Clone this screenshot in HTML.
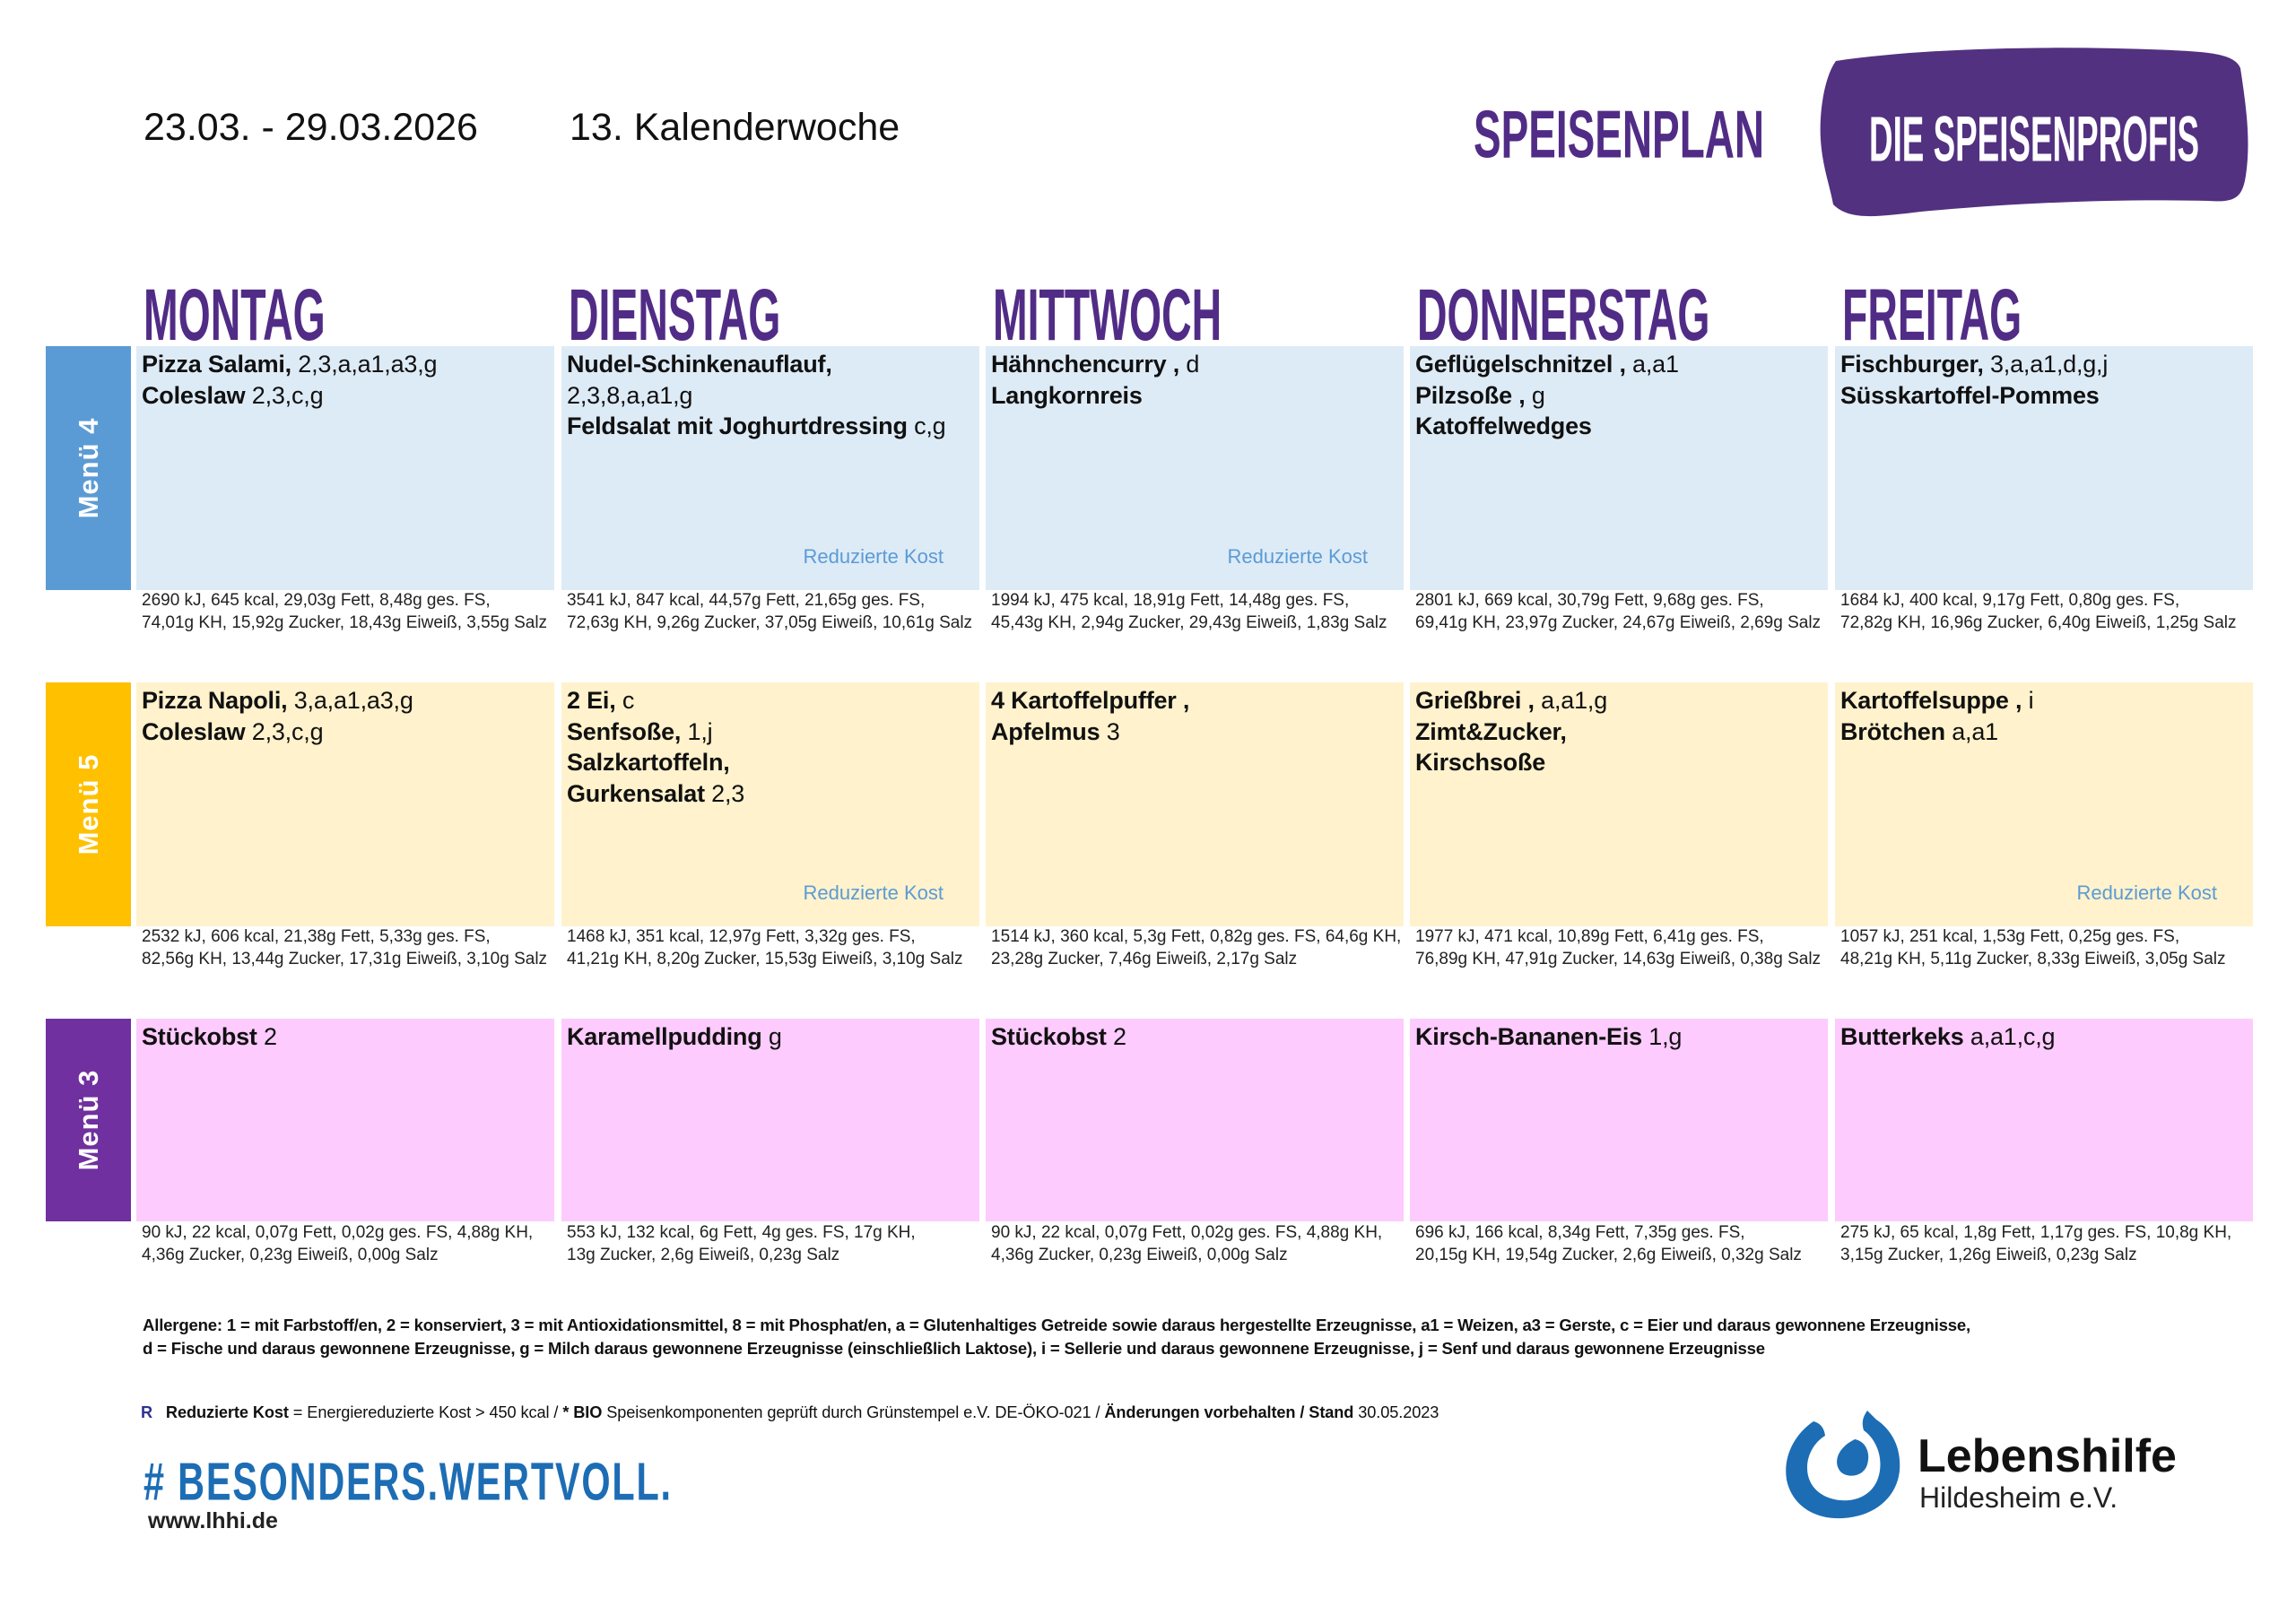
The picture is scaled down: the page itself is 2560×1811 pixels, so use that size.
<!DOCTYPE html>
<html><head><meta charset="utf-8">
<style>
*{margin:0;padding:0;box-sizing:border-box}
body{width:2560px;height:1811px;background:#fff;position:relative;overflow:hidden;font-family:"Liberation Sans",Arial,sans-serif;color:#111}
.a{position:absolute;white-space:nowrap}
.h{font-family:"Liberation Sans Narrow","Liberation Sans",sans-serif;font-weight:bold;color:#512c86;transform-origin:0 0;line-height:1;z-index:2}
.d{transform:scale(0.8,1.4)}
.lab{position:absolute;left:51px;width:95px;color:#fff;font-weight:bold;font-size:31px}
.lab span{position:absolute;left:50%;top:50%;transform:translate(-50%,-50%) rotate(-90deg);white-space:nowrap;letter-spacing:1px}
.c{position:absolute;width:466px;padding:3px 0 0 6px;font-size:27px;line-height:34.5px;font-weight:bold;letter-spacing:-0.2px}
.c i{font-style:normal;font-weight:normal}
.r{position:absolute;right:40px;bottom:20px;font-size:22px;font-weight:normal;color:#5b9bd5;letter-spacing:0}
.n{position:absolute;width:480px;padding-left:6px;font-size:19px;line-height:24.5px;color:#222;white-space:nowrap}
.b4{background:#ddebf7}.b5{background:#fff2cc}.b3{background:#fdcbfd}
</style></head><body>
<div class="a" style="left:160px;top:118px;font-size:43px">23.03. - 29.03.2026</div>
<div class="a" style="left:635px;top:118px;font-size:43px">13. Kalenderwoche</div>
<div class="a h" style="left:1643px;top:112px;font-size:56px;transform:scale(0.82,1.35)">SPEISENPLAN</div>
<svg class="a" style="left:2022px;top:46px" width="490" height="210" viewBox="0 0 490 210"><path d="M25 22 C120 8 260 4 400 10 C440 12 470 14 476 30 C482 70 488 110 482 150 C478 175 470 180 440 178 C360 176 250 178 120 190 C70 196 40 200 22 182 C18 160 10 140 8 110 C6 80 12 40 25 22 Z" fill="#523180"/></svg>
<div class="a h" style="left:2084px;top:119px;font-size:46px;color:#fff;transform:scale(0.8,1.55)">DIE SPEISENPROFIS</div>

<div class="a h d" style="left:160px;top:312px;font-size:58px">MONTAG</div>
<div class="a h d" style="left:634px;top:312px;font-size:58px">DIENSTAG</div>
<div class="a h d" style="left:1107px;top:312px;font-size:58px">MITTWOCH</div>
<div class="a h d" style="left:1580px;top:312px;font-size:58px">DONNERSTAG</div>
<div class="a h d" style="left:2054px;top:312px;font-size:58px">FREITAG</div>

<div class="lab" style="top:386px;height:272px;background:#5b9bd5"><span>Menü 4</span></div>
<div class="lab" style="top:761px;height:272px;background:#ffc000"><span>Menü 5</span></div>
<div class="lab" style="top:1136px;height:226px;background:#7030a0"><span>Menü 3</span></div>

<!-- Menu 4 -->
<div class="c b4" style="left:152px;top:386px;height:272px">Pizza Salami, <i>2,3,a,a1,a3,g</i><br>Coleslaw <i>2,3,c,g</i></div>
<div class="c b4" style="left:626px;top:386px;height:272px">Nudel-Schinkenauflauf,<br><i>2,3,8,a,a1,g</i><br>Feldsalat mit Joghurtdressing <i>c,g</i><div class="r">Reduzierte Kost</div></div>
<div class="c b4" style="left:1099px;top:386px;height:272px">Hähnchencurry , <i>d</i><br>Langkornreis<div class="r">Reduzierte Kost</div></div>
<div class="c b4" style="left:1572px;top:386px;height:272px">Geflügelschnitzel , <i>a,a1</i><br>Pilzsoße , <i>g</i><br>Katoffelwedges</div>
<div class="c b4" style="left:2046px;top:386px;height:272px">Fischburger, <i>3,a,a1,d,g,j</i><br>Süsskartoffel-Pommes</div>
<div class="n" style="left:152px;top:658px">2690 kJ, 645 kcal, 29,03g Fett, 8,48g ges. FS,<br>74,01g KH, 15,92g Zucker, 18,43g Eiweiß, 3,55g Salz</div>
<div class="n" style="left:626px;top:658px">3541 kJ, 847 kcal, 44,57g Fett, 21,65g ges. FS,<br>72,63g KH, 9,26g Zucker, 37,05g Eiweiß, 10,61g Salz</div>
<div class="n" style="left:1099px;top:658px">1994 kJ, 475 kcal, 18,91g Fett, 14,48g ges. FS,<br>45,43g KH, 2,94g Zucker, 29,43g Eiweiß, 1,83g Salz</div>
<div class="n" style="left:1572px;top:658px">2801 kJ, 669 kcal, 30,79g Fett, 9,68g ges. FS,<br>69,41g KH, 23,97g Zucker, 24,67g Eiweiß, 2,69g Salz</div>
<div class="n" style="left:2046px;top:658px">1684 kJ, 400 kcal, 9,17g Fett, 0,80g ges. FS,<br>72,82g KH, 16,96g Zucker, 6,40g Eiweiß, 1,25g Salz</div>

<!-- Menu 5 -->
<div class="c b5" style="left:152px;top:761px;height:272px">Pizza Napoli, <i>3,a,a1,a3,g</i><br>Coleslaw <i>2,3,c,g</i></div>
<div class="c b5" style="left:626px;top:761px;height:272px">2 Ei, <i>c</i><br>Senfsoße, <i>1,j</i><br>Salzkartoffeln,<br>Gurkensalat <i>2,3</i><div class="r">Reduzierte Kost</div></div>
<div class="c b5" style="left:1099px;top:761px;height:272px">4 Kartoffelpuffer ,<br>Apfelmus <i>3</i></div>
<div class="c b5" style="left:1572px;top:761px;height:272px">Grießbrei , <i>a,a1,g</i><br>Zimt&amp;Zucker,<br>Kirschsoße</div>
<div class="c b5" style="left:2046px;top:761px;height:272px">Kartoffelsuppe , <i>i</i><br>Brötchen <i>a,a1</i><div class="r">Reduzierte Kost</div></div>
<div class="n" style="left:152px;top:1033px">2532 kJ, 606 kcal, 21,38g Fett, 5,33g ges. FS,<br>82,56g KH, 13,44g Zucker, 17,31g Eiweiß, 3,10g Salz</div>
<div class="n" style="left:626px;top:1033px">1468 kJ, 351 kcal, 12,97g Fett, 3,32g ges. FS,<br>41,21g KH, 8,20g Zucker, 15,53g Eiweiß, 3,10g Salz</div>
<div class="n" style="left:1099px;top:1033px">1514 kJ, 360 kcal, 5,3g Fett, 0,82g ges. FS, 64,6g KH,<br>23,28g Zucker, 7,46g Eiweiß, 2,17g Salz</div>
<div class="n" style="left:1572px;top:1033px">1977 kJ, 471 kcal, 10,89g Fett, 6,41g ges. FS,<br>76,89g KH, 47,91g Zucker, 14,63g Eiweiß, 0,38g Salz</div>
<div class="n" style="left:2046px;top:1033px">1057 kJ, 251 kcal, 1,53g Fett, 0,25g ges. FS,<br>48,21g KH, 5,11g Zucker, 8,33g Eiweiß, 3,05g Salz</div>

<!-- Menu 3 -->
<div class="c b3" style="left:152px;top:1136px;height:226px">Stückobst <i>2</i></div>
<div class="c b3" style="left:626px;top:1136px;height:226px">Karamellpudding <i>g</i></div>
<div class="c b3" style="left:1099px;top:1136px;height:226px">Stückobst <i>2</i></div>
<div class="c b3" style="left:1572px;top:1136px;height:226px">Kirsch-Bananen-Eis <i>1,g</i></div>
<div class="c b3" style="left:2046px;top:1136px;height:226px">Butterkeks <i>a,a1,c,g</i></div>
<div class="n" style="left:152px;top:1363px">90 kJ, 22 kcal, 0,07g Fett, 0,02g ges. FS, 4,88g KH,<br>4,36g Zucker, 0,23g Eiweiß, 0,00g Salz</div>
<div class="n" style="left:626px;top:1363px">553 kJ, 132 kcal, 6g Fett, 4g ges. FS, 17g KH,<br>13g Zucker, 2,6g Eiweiß, 0,23g Salz</div>
<div class="n" style="left:1099px;top:1363px">90 kJ, 22 kcal, 0,07g Fett, 0,02g ges. FS, 4,88g KH,<br>4,36g Zucker, 0,23g Eiweiß, 0,00g Salz</div>
<div class="n" style="left:1572px;top:1363px">696 kJ, 166 kcal, 8,34g Fett, 7,35g ges. FS,<br>20,15g KH, 19,54g Zucker, 2,6g Eiweiß, 0,32g Salz</div>
<div class="n" style="left:2046px;top:1363px">275 kJ, 65 kcal, 1,8g Fett, 1,17g ges. FS, 10,8g KH,<br>3,15g Zucker, 1,26g Eiweiß, 0,23g Salz</div>

<div class="a" style="left:159px;top:1465px;font-size:18.6px;line-height:26px;font-weight:bold;letter-spacing:-0.2px">Allergene: 1 = mit Farbstoff/en, 2 = konserviert, 3 = mit Antioxidationsmittel, 8 = mit Phosphat/en, a = Glutenhaltiges Getreide sowie daraus hergestellte Erzeugnisse, a1 = Weizen, a3 = Gerste, c = Eier und daraus gewonnene Erzeugnisse,<br>d = Fische und daraus gewonnene Erzeugnisse, g = Milch daraus gewonnene Erzeugnisse (einschließlich Laktose), i = Sellerie und daraus gewonnene Erzeugnisse, j = Senf und daraus gewonnene Erzeugnisse</div>
<div class="a" style="left:157px;top:1565px;font-size:18.2px;letter-spacing:-0.1px"><b style="color:#2e3192">R</b>&nbsp;&nbsp; <b>Reduzierte Kost</b> = Energiereduzierte Kost &gt; 450 kcal / <b>* BIO</b> Speisenkomponenten geprüft durch Grünstempel e.V. DE-ÖKO-021 / <b>Änderungen vorbehalten / Stand</b> 30.05.2023</div>
<div class="a h" style="left:160px;top:1622px;font-size:46px;color:#1d6db4;transform:scale(0.9,1.3);letter-spacing:2px">#&nbsp;BESONDERS.WERTVOLL.</div>
<div class="a" style="left:165px;top:1682px;font-size:25px;font-weight:bold;color:#222">www.lhhi.de</div>

<svg class="a" style="left:1980px;top:1565px" width="150" height="135" viewBox="0 0 150 135"><path d="M42 20 C20 35 8 60 12 85 C18 115 45 130 75 128 C110 126 135 105 138 75 C140 50 130 30 112 18 L102 8 C98 14 95 20 98 30 C112 40 120 60 115 80 C110 100 92 110 72 108 C50 106 35 92 35 72 C35 55 45 42 55 36 C54 28 50 22 42 20 Z" fill="#1d6db4"/><path d="M88 40 C100 42 106 55 102 68 C98 82 80 84 72 76 C64 66 68 50 88 40 Z" fill="#1d6db4"/></svg>
<div class="a" style="left:2138px;top:1594px;font-size:52px;font-weight:bold;color:#111">Lebenshilfe</div>
<div class="a" style="left:2140px;top:1652px;font-size:32px;color:#222">Hildesheim e.V.</div>
</body></html>
